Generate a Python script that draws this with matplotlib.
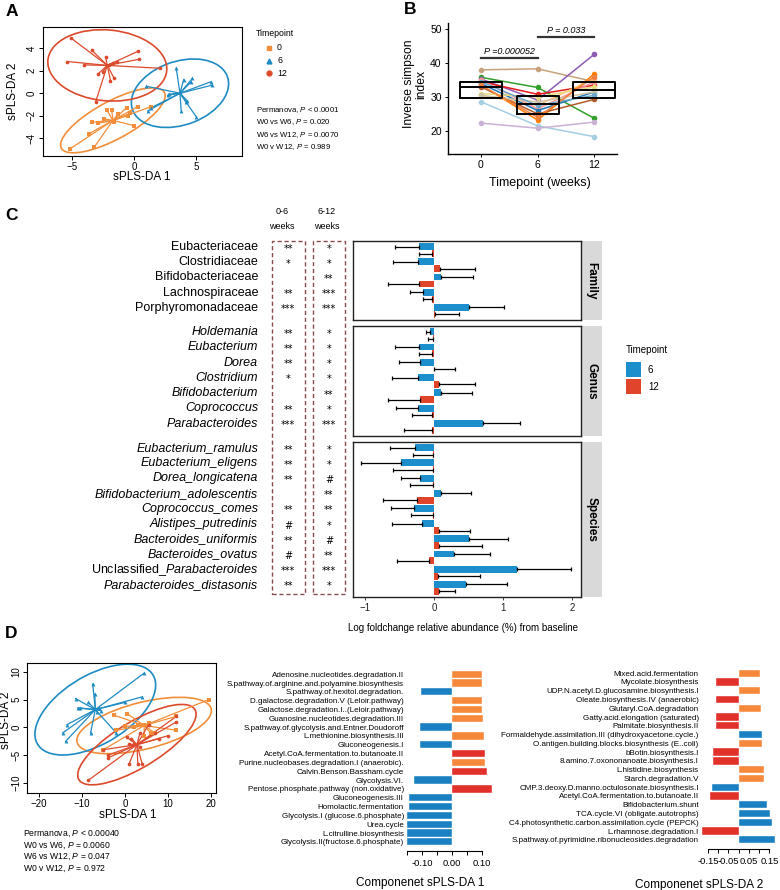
import numpy as np
import matplotlib
matplotlib.use("Agg")
import matplotlib.pyplot as plt
import matplotlib.transforms as mtransforms
from matplotlib.patches import Ellipse, Rectangle

plt.rcParams['font.family'] = ['Liberation Sans', 'DejaVu Sans']
plt.rcParams['mathtext.fontset'] = 'custom'
plt.rcParams['mathtext.rm'] = 'Liberation Sans'
plt.rcParams['mathtext.it'] = 'Liberation Sans:italic'
plt.rcParams['mathtext.bf'] = 'Liberation Sans:bold'

# ---------------- data ----------------
# Panel A: sPLS-DA scores (taxa)
a_x_wk0 = [-5.2, -3.2, -3.6, -3.4, -2.9, -2.2, -1.8, -1.3, -0.6, -0.5, -0.3, 0.0, 0.3, 1.4, -2.4, -1.6]
a_y_wk0 = [-5.0, -4.8, -3.6, -2.6, -2.7, -1.5, -1.5, -1.9, -1.3, -2.0, -1.8, -2.9, -1.2, -1.2, -2.3, -2.6]
a_x_wk6 = [1.0, 1.1, 1.4, 2.7, 3.4, 3.7, 3.8, 4.2, 4.3, 4.0, 4.7, 4.6, 5.0, 6.2, 6.3, 2.8]
a_y_wk6 = [0.6, -1.6, -1.3, -0.2, 2.2, 0.1, -1.6, -0.8, -0.7, 1.2, 1.3, 1.0, -2.1, 1.0, 0.7, -0.1]
a_x_wk12 = [-5.1, -5.4, -4.0, -3.4, -2.9, -2.5, -2.3, -1.9, -1.6, -1.4, 0.3, 0.4, 2.1, -3.1, -1.7, -2.0]
a_y_wk12 = [4.9, 2.8, 2.5, 3.8, 1.7, 1.9, 3.2, 1.1, 1.3, 2.8, 3.7, 3.0, 2.2, -0.8, 2.7, 2.5]
a_stats = [r"Permanova, $P$ < $\mathit{0.0001}$",
           r"W0 vs W6, $P$ = $\mathit{0.020}$",
           r"W6 vs W12, $P$ = $\mathit{0.0070}$",
           r"W0 v W12, $P$ = $\mathit{0.989}$"]

# Panel B: inverse simpson per subject (week 0, 6, 12)
b_weeks = ['0', '6', '12']
b_subjects = [
    [38.0, 38.3, 34.5], [35.8, 32.8, 23.7], [35.3, 29.1, 42.6], [34.5, 30.8, 33.5],
    [33.5, 23.2, 36.8], [35.0, 26.5, 34.5], [28.6, 21.5, 18.3], [22.3, 20.8, 22.6],
    [30.5, 27.5, 35.5], [34.0, 26.0, 31.5], [33.0, 25.0, 29.3], [31.0, 30.0, 33.0],
    [30.5, 28.5, 31.5], [34.5, 27.5, 30.5], [33.5, 24.0, 36.0],
]
b_line_colors = ['#C8A27C', '#33A02C', '#8E5BB5', '#E31A1C', '#FF7F00', '#FB9A99', '#A6CEE3',
                 '#CAB2D6', '#FDBF6F', '#1F78B4', '#B15928', '#E8DC7E', '#CFC3A5', '#6CA6CD', '#F08040']
b_q1 = [29.7, 25.0, 29.8]
b_med = [33.0, 28.0, 32.0]
b_q3 = [34.5, 30.3, 34.5]
b_p_labels = ["P =0.000052", "P = 0.033"]

# Panel C: log fold change from baseline (value, end of error bar)
fam_names = ['Eubacteriaceae', 'Clostridiaceae', 'Bifidobacteriaceae', 'Lachnospiraceae', 'Porphyromonadaceae']
fam_v6 = [-0.21, -0.23, 0.11, -0.15, 0.51]
fam_e6 = [-0.56, -0.59, 0.56, -0.35, 1.01]
fam_v12 = [-0.02, 0.09, -0.21, -0.02, 0.01]
fam_e12 = [-0.22, 0.59, -0.66, -0.16, 0.37]
fam_sig06 = ['**', '*', '', '**', '***']
fam_sig612 = ['*', '*', '**', '***', '***']

gen_names = ['Holdemania', 'Eubacterium', 'Dorea', 'Clostridium', 'Bifidobacterium', 'Coprococcus', 'Parabacteroides']
gen_v6 = [-0.05, -0.21, -0.20, -0.23, 0.10, -0.23, 0.71]
gen_e6 = [-0.11, -0.56, -0.50, -0.60, 0.55, -0.55, 1.24]
gen_v12 = [-0.01, -0.02, 0.005, 0.07, -0.20, -0.03, -0.02]
gen_e12 = [-0.08, -0.22, 0.30, 0.59, -0.66, -0.31, -0.43]
gen_sig06 = ['**', '**', '**', '*', '', '**', '***']
gen_sig612 = ['*', '*', '*', '*', '**', '*', '***']

spe_names = ['Eubacterium_ramulus', 'Eubacterium_eligens', 'Dorea_longicatena', 'Bifidobacterium_adolescentis',
             'Coprococcus_comes', 'Alistipes_putredinis', 'Bacteroides_uniformis', 'Bacteroides_ovatus',
             'Unclassified_Parabacteroides', 'Parabacteroides_distasonis']
spe_v6 = [-0.27, -0.47, -0.20, 0.10, -0.29, -0.17, 0.51, 0.29, 1.20, 0.46]
spe_e6 = [-0.64, -1.05, -0.47, 0.54, -0.62, -0.61, 1.08, 0.81, 1.98, 1.06]
spe_v12 = [-0.01, -0.005, -0.005, -0.24, -0.01, 0.07, 0.08, -0.07, 0.06, 0.08]
spe_e12 = [-0.30, -0.59, -0.35, -0.73, -0.33, 0.52, 0.69, -0.53, 0.67, 0.30]
spe_sig06 = ['**', '**', '**', '', '**', '#', '**', '#', '***', '**']
spe_sig612 = ['*', '*', '#', '**', '**', '*', '#', '**', '***', '*']

# Panel D: sPLS-DA scores (pathways)
d_x_wk0 = [19.5, -2.5, 0.5, 3.0, 4.5, 5.5, 0.0, 7.0, 12.0, 12.0, -2.0, 6.0, 4.5, 2.0, -5.0]
d_y_wk0 = [5.0, 2.2, 2.5, 0.5, 0.5, 0.8, 0.2, -1.0, 2.0, -0.5, -0.5, -1.0, -1.5, 0.0, -4.0]
d_x_wk6 = [-14.5, -13.8, -13.5, -11.5, -11.0, -8.5, -8.0, -7.5, -7.0, -6.0, -6.5, -5.5, 0.0, 4.0, 4.5, -2.0, -10.5]
d_y_wk6 = [-1.0, -2.5, 0.5, 5.2, 3.5, 4.5, -1.0, 7.8, 6.0, 3.5, 2.8, 3.0, 4.5, 5.5, 9.8, -1.0, 3.5]
d_x_wk12 = [-8.5, -5.0, -4.0, -4.0, 1.0, 1.0, 1.5, 2.0, 3.0, 4.0, 3.5, 7.0, 8.0, 10.0, 12.0, 12.0, 5.5, 3.5, 0.5]
d_y_wk12 = [-9.5, -4.0, -5.5, -5.0, -6.5, -3.0, -2.0, -3.0, -6.5, -6.5, -3.5, -1.0, -2.0, -1.5, 2.0, 1.0, 0.5, -1.0, -1.8]
d_stats = [r"Permanova, $P$ < $\mathit{0.00040}$",
           r"W0 vs W6, $P$ = $\mathit{0.0060}$",
           r"W6 vs W12, $P$ = $\mathit{0.047}$",
           r"W0 v W12, $P$ = $\mathit{0.972}$"]

# loadings, group with max contribution: 0 / 6 / 12
load1_names = ['Adenosine.nucleotides.degradation.II', 'S.pathway.of.arginine.and.polyamine.biosynthesis',
               'S.pathway.of.hexitol.degradation.', 'D.galactose.degradation.V (Leloir.pathway)',
               'Galactose.degradation.I..(Leloir.pathway)', 'Guanosine.nucleotides.degradation.III',
               'S.pathway.of.glycolysis.and.Entner.Doudoroff', 'L.methionine.biosynthesis.III',
               'Gluconeogenesis.I', 'Acetyl.CoA.fermentation.to.butanoate.II',
               'Purine.nucleobases.degradation.I (anaerobic).', 'Calvin.Benson.Bassham.cycle',
               'Glycolysis.VI.', 'Pentose.phosphate.pathway (non.oxidative)', 'Gluconeogenesis.III',
               'Homolactic.fermentation', 'Glycolysis.I (glucose.6.phosphate)', 'Urea.cycle',
               'L.citrulline.biosynthesis', 'Glycolysis.II(fructose.6.phosphate)']
load1_vals = [0.100, 0.100, -0.103, 0.102, 0.102, 0.103, -0.107, 0.106, -0.109, 0.111,
              0.111, 0.117, -0.129, 0.134, -0.144, -0.145, -0.152, -0.152, -0.152, -0.152]
load1_grp = ['0', '0', '6', '0', '0', '0', '6', '0', '6', '12',
             '0', '12', '6', '12', '6', '6', '6', '6', '6', '6']

load2_names = ['Mixed.acid.fermentation', 'Mycolate.biosynthesis', 'UDP.N.acetyl.D.glucosamine.biosynthesis.I',
               'Oleate.biosynthesis.IV (anaerobic)', 'Glutaryl.CoA.degradation', 'Gatty.acid.elongation (saturated)',
               'Palmitate.biosynthesis.II', 'Formaldehyde.assimilation.III (dihydroxyacetone.cycle.)',
               'O.antigen.building.blocks.biosynthesis (E..coli)', 'bBotin.biosynthesis.I',
               '8.amino.7.oxononanoate.biosynthesis.I', 'L.histidine.biosynthesis', 'Starch.degradation.V',
               'CMP.3.deoxy.D.manno.octulosonate.biosynthesis.I', 'Acetyl.CoA.fermentation.to.butanoate.II',
               'Bifidobacterium.shunt', 'TCA.cycle.VI (obligate.autotrophs)',
               'C4.photosynthetic.carbon.assimilation.cycle (PEPCK)', 'L.rhamnose.degradation.I',
               'S.pathway.of.pyrimidine.ribonucleosides.degradation']
load2_vals = [0.106, -0.109, 0.106, -0.109, 0.107, -0.112, -0.112, 0.112, 0.116, -0.124,
              -0.124, 0.125, 0.125, -0.130, -0.140, 0.138, 0.155, 0.164, -0.181, 0.179]
load2_grp = ['0', '12', '0', '12', '0', '12', '12', '6', '0', '12',
             '12', '0', '0', '6', '12', '6', '6', '6', '12', '6']

# ---------------- styles ----------------
COL = {'0': '#F28E3A', '6': '#1E8BC3', '12': '#DC4A2C'}
BAR_COL = {'0': '#F5883A', '6': '#1A80C2', '12': '#E2302A'}
C_BLUE, C_RED = '#1B8ECB', '#E0452B'

W, H = 780, 890
fig = plt.figure(figsize=(W / 100, H / 100), dpi=100)


def px_axes(l, t, r, b):
    return fig.add_axes([l / W, 1 - b / H, (r - l) / W, (b - t) / H])


def ftext(x, y, s, **kw):
    return fig.text(x / W, 1 - y / H, s, **kw)


def add_ellipse(ax, x, y, color, n_std=2.4477):
    cov = np.cov(x, y)
    vals, vecs = np.linalg.eigh(cov)
    order = vals.argsort()[::-1]
    vals, vecs = vals[order], vecs[:, order]
    angle = np.degrees(np.arctan2(vecs[1, 0], vecs[0, 0]))
    w, h = 2 * n_std * np.sqrt(vals)
    ax.add_patch(Ellipse((np.mean(x), np.mean(y)), w, h, angle=angle,
                         fill=False, ec=color, lw=1.2))


def star_plot(ax, x, y, color, marker, ms):
    cx, cy = np.mean(x), np.mean(y)
    for xi, yi in zip(x, y):
        ax.plot([cx, xi], [cy, yi], color=color, lw=0.9)
    ax.scatter(x, y, marker=marker, s=ms, color=color, zorder=3, lw=0)


def base_style(ax, fs=6.5, pad=2):
    for s in ax.spines.values():
        s.set_linewidth(0.8)
    ax.tick_params(direction='out', length=3, width=0.7, labelsize=fs, pad=pad)
    for lab in ax.get_yticklabels():
        lab.set_rotation(90)
        lab.set_va('center')


# ---------------- Panel A ----------------
axA = px_axes(43, 27, 242, 156)
for xs, ys, g, m, ms in [(a_x_wk0, a_y_wk0, '0', 's', 7), (a_x_wk6, a_y_wk6, '6', '^', 8),
                         (a_x_wk12, a_y_wk12, '12', 'o', 7)]:
    star_plot(axA, xs, ys, COL[g], m, ms)
    add_ellipse(axA, xs, ys, COL[g])
axA.set_xlim(-7.34, 8.7)
axA.set_ylim(-5.6, 5.87)
axA.set_xticks([-5, 0, 5])
axA.set_yticks([-4, -2, 0, 2, 4])
base_style(axA, fs=7, pad=1.5)
ftext(142, 177, 'sPLS-DA 1', ha='center', va='center', fontsize=8.5)
ftext(13, 91, 'sPLS-DA 2', ha='center', va='center', fontsize=8.5, rotation=90)

ftext(256, 33, 'Timepoint', fontsize=6.3, va='center')
for i, (g, m) in enumerate([('0', 's'), ('6', '^'), ('12', 'o')]):
    fig.lines.append(plt.Line2D([269 / W], [1 - (48 + 12.5 * i) / H], marker=m, color=COL[g],
                                ms=3.5, lw=0, transform=fig.transFigure))
    ftext(277, 48 + 12.5 * i, g, fontsize=6.3, va='center')
for i, s in enumerate(a_stats):
    ftext(256, 110 + 12.3 * i, s, fontsize=5.6, va='center')

# ---------------- Panel B ----------------
axB = px_axes(448, 23, 617, 154)
xpos = np.arange(len(b_weeks))
for vals, c in zip(b_subjects, b_line_colors):
    axB.plot(xpos, vals, color=c, lw=1.1, marker='o', ms=3, zorder=2)
stats = [dict(med=m, q1=a, q3=b, whislo=a, whishi=b, fliers=[]) for a, m, b in zip(b_q1, b_med, b_q3)]
axB.bxp(stats, positions=xpos, widths=0.74, showcaps=False, showfliers=False, patch_artist=False,
        boxprops=dict(color='black', lw=1.4), medianprops=dict(color='black', lw=1.4),
        whiskerprops=dict(lw=0), manage_ticks=False, zorder=4)
axB.set_xlim(-0.58, 2.4)
axB.set_ylim(13.2, 51.8)
axB.set_xticks(xpos)
axB.set_xticklabels(b_weeks)
axB.set_yticks([20, 30, 40, 50])
axB.spines['top'].set_visible(False)
axB.spines['right'].set_visible(False)
axB.tick_params(direction='out', length=2.5, width=0.7, labelsize=7.5, pad=2)
for sp in ('left', 'bottom'):
    axB.spines[sp].set_linewidth(1.0)
# significance bars
for (x0, x1), yb, lab in [((0, 1), 41.6, b_p_labels[0]), ((1, 2), 47.6, b_p_labels[1])]:
    axB.plot([x0, x1], [yb, yb], color='#333333', lw=1.6, clip_on=False)
    axB.text((x0 + x1) / 2, yb + 0.6, lab, ha='center', va='bottom', fontsize=6.5, style='italic')
ftext(540, 183, 'Timepoint (weeks)', ha='center', va='center', fontsize=9)
ftext(415, 84, 'Inverse simpson\nindex', ha='center', va='center', fontsize=8.7, rotation=90,
      linespacing=1.0)

# ---------------- Panel C ----------------
def facet(top, bottom, names, v6, e6, v12, e12, sig06, sig612, strip, italic, last=False):
    ax = px_axes(353, top, 581, bottom)
    n = len(names)
    y = np.arange(n)
    h = 0.45
    ax.barh(y - h / 2, v6, height=h, color=C_BLUE, zorder=2)
    ax.barh(y + h / 2, v12, height=h, color=C_RED, zorder=2)
    for yy, v, e in [(y - h / 2, v6, e6), (y + h / 2, v12, e12)]:
        v = np.array(v)
        e = np.array(e)
        lo = np.where(e < v, v - e, 0)
        hi = np.where(e > v, e - v, 0)
        ax.errorbar(v, yy, xerr=[lo, hi], fmt='none', ecolor='black', elinewidth=0.9,
                    capsize=1.3, capthick=0.9, zorder=3)
    ax.set_xlim(-1.17, 2.13)
    ax.set_ylim(n - 1 + 0.6, -0.6)
    ax.set_yticks([])
    for s in ax.spines.values():
        s.set_linewidth(1.0)
        s.set_color('#222222')
    if last:
        ax.set_xticks([-1, 0, 1, 2])
        ax.tick_params(axis='x', length=2, width=0.6, labelsize=7, pad=2, colors='#222222')
    else:
        ax.set_xticks([])
    ax.add_patch(Rectangle((1.0, 0), 21 / 228, 1, transform=ax.transAxes, color='#D9D9D9',
                           clip_on=False, lw=0))
    ax.text(1.0 + 10.5 / 228, 0.5, strip, transform=ax.transAxes, rotation=-90, ha='center',
            va='center', fontsize=8.5, fontweight='bold')
    tr = mtransforms.blended_transform_factory(fig.transFigure, ax.transData)
    for i, nm in enumerate(names):
        if nm.startswith('Unclassified_'):
            lab = 'Unclassified_' + r'$\mathit{' + nm.split('_', 1)[1] + '}$'
            ax.text(258 / W, i - 0.2, lab, transform=tr, ha='right', va='center', fontsize=9)
        else:
            ax.text(258 / W, i - 0.2, nm, transform=tr, ha='right', va='center', fontsize=9,
                    style='italic' if italic else 'normal')
        ax.text(288 / W, i - 0.1, sig06[i], transform=tr, ha='center', va='center', fontsize=7,
                family='DejaVu Sans')
        ax.text(329 / W, i - 0.1, sig612[i], transform=tr, ha='center', va='center', fontsize=7,
                family='DejaVu Sans')
    return ax


facet(241, 320, fam_names, fam_v6, fam_e6, fam_v12, fam_e12, fam_sig06, fam_sig612, 'Family', False)
facet(326, 436, gen_names, gen_v6, gen_e6, gen_v12, gen_e12, gen_sig06, gen_sig612, 'Genus', True)
facet(442, 597, spe_names, spe_v6, spe_e6, spe_v12, spe_e12, spe_sig06, spe_sig612, 'Species', True,
      last=True)

for x0, x1 in [(272, 305), (313, 345)]:
    fig.patches.append(Rectangle((x0 / W, 1 - 594 / H), (x1 - x0) / W, (594 - 241) / H,
                                 transform=fig.transFigure, fill=False, ec='#8A4A4A', lw=1.0,
                                 ls=(0, (3, 2))))
ftext(282, 211, '0-6', ha='center', va='center', fontsize=6.5)
ftext(282, 227, 'weeks', ha='center', va='center', fontsize=6.5)
ftext(327, 211, '6-12', ha='center', va='center', fontsize=6.5)
ftext(327, 227, 'weeks', ha='center', va='center', fontsize=6.5)
ftext(463, 628, 'Log foldchange relative abundance (%) from baseline', ha='center', va='center',
      fontsize=7)

ftext(626, 350, 'Timepoint', fontsize=7, va='center')
for i, (c, lab) in enumerate([(C_BLUE, '6'), (C_RED, '12')]):
    fig.patches.append(Rectangle((626 / W, 1 - (377 + 17 * i) / H), 15 / W, 15 / H,
                                 transform=fig.transFigure, color=c, lw=0))
    ftext(648, 370 + 17 * i, lab, fontsize=7, va='center')

# ---------------- Panel D scatter ----------------
axD = px_axes(27, 663, 216, 793)
for xs, ys, g, m, ms in [(d_x_wk0, d_y_wk0, '0', 's', 7), (d_x_wk6, d_y_wk6, '6', '^', 8),
                         (d_x_wk12, d_y_wk12, '12', 'o', 7)]:
    star_plot(axD, xs, ys, COL[g], m, ms)
    add_ellipse(axD, xs, ys, COL[g])
axD.set_xlim(-22.8, 21.2)
axD.set_ylim(-11.8, 11.6)
axD.set_xticks([-20, -10, 0, 10, 20])
axD.set_yticks([-10, -5, 0, 5, 10])
base_style(axD, fs=7, pad=1)
ftext(128, 815, 'sPLS-DA 1', ha='center', va='center', fontsize=8.5)
ftext(6, 720, 'sPLS-DA 2', ha='center', va='center', fontsize=8.5, rotation=90)
for i, s in enumerate(d_stats):
    ftext(23, 834 + 11.5 * i, s, fontsize=6.2, va='center')


# ---------------- Panel D loadings ----------------
def loadings(l, r, top, bottom, names, vals, grp, xlim, bounds, ticks, labeled):
    ax = px_axes(l, top, r, bottom)
    y = np.arange(len(names))
    ax.barh(y, vals, height=0.83, color=[BAR_COL[g] for g in grp], edgecolor='white', lw=0.3)
    ax.set_ylim(len(names) - 1 + 0.7, -0.7)
    ax.set_xlim(*xlim)
    ax.set_yticks(y)
    ax.set_yticklabels(names, fontsize=5.8)
    ax.tick_params(axis='y', length=0, pad=1.5)
    for sp in ('top', 'right', 'left'):
        ax.spines[sp].set_visible(False)
    ax.spines['bottom'].set_position(('outward', 2))
    ax.spines['bottom'].set_bounds(*bounds)
    ax.spines['bottom'].set_linewidth(0.8)
    ax.set_xticks(ticks)
    ax.set_xticklabels([f"{t:.2f}" if t in labeled else '' for t in ticks])
    ax.tick_params(axis='x', length=3, width=0.7, labelsize=6.8, pad=3)
    return ax


tick1 = [-0.15, -0.10, -0.05, 0.0, 0.05, 0.10]
loadings(406, 493.6, 668, 848, load1_names, load1_vals, load1_grp, (-0.155, 0.14), (-0.15, 0.10),
         tick1, [-0.10, 0.0, 0.10])
ftext(420, 883, 'Componenet sPLS-DA 1', ha='center', va='center', fontsize=8.5)

tick2 = [-0.15, -0.10, -0.05, 0.0, 0.05, 0.10, 0.15]
loadings(700.8, 776.2, 667, 846, load2_names, load2_vals, load2_grp, (-0.185, 0.183), (-0.15, 0.15),
         tick2, [-0.15, -0.05, 0.05, 0.15])
ftext(699, 885, 'Componenet sPLS-DA 2', ha='center', va='center', fontsize=8.5)

# panel letters
for x, y, s in [(12, 12, 'A'), (410, 9, 'B'), (11, 215, 'C'), (11, 634, 'D')]:
    ftext(x, y, s, ha='center', va='center', fontsize=12.5, fontweight='bold')

fig.savefig('out.png', dpi=100)
